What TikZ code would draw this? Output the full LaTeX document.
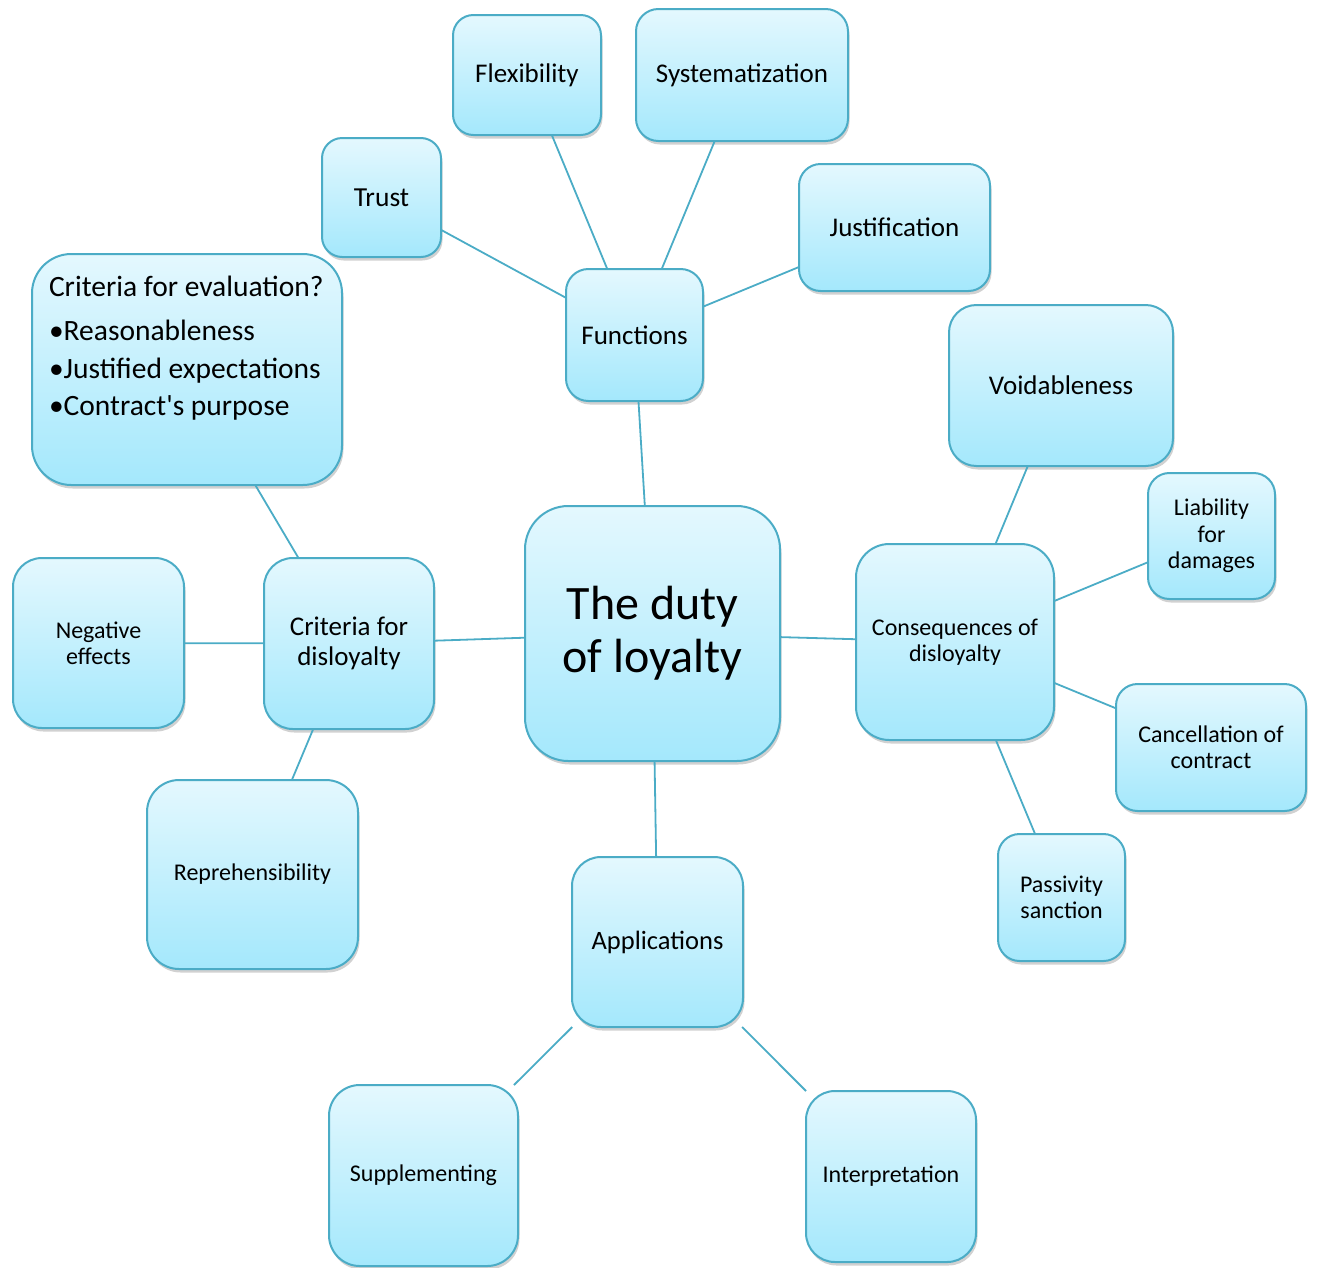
\documentclass[tikz,border=0pt]{standalone}
\usepackage{fontspec}
\setmainfont{Carlito}[Ligatures=TeXOff]
\usetikzlibrary{shadows}
\definecolor{bordc}{HTML}{4BACC6}
\definecolor{topc}{HTML}{E4F8FE}
\definecolor{botc}{HTML}{A4E8FC}
\tikzset{
  box/.style={draw=bordc, line width=2pt, top color=topc, bottom color=botc,
    rectangle, outer sep=0pt, inner sep=2pt, align=center, text=black,
    drop shadow={shadow xshift=1.5pt, shadow yshift=-3.5pt, opacity=0.3, fill=black!60}},
  conn/.style={draw=bordc, line width=1.8pt},
  txt/.style={inner sep=0pt, outer sep=0pt, align=left, text=black}
}
\newcommand\bx[7]{%
  \pgfmathsetmacro\myBW{#4-#2}%
  \pgfmathsetmacro\myBH{#5-#3}%
  \pgfmathsetmacro\myBR{0.17*min(\myBW,\myBH)}%
  \pgfmathsetmacro\myBL{#6*1.1}%
  \node[box, minimum width=\myBW pt, minimum height=\myBH pt, rounded corners=\myBR pt,
        font={\fontsize{#6}{\myBL}\selectfont}] (#1) at ({(#2+#4)/2},{(#3+#5)/2}) {#7};}
\begin{document}
\begin{tikzpicture}[x=1pt,y=-1pt]
\useasboundingbox (0,0) rectangle (1317,1267);
\bx{ctr}{525}{506}{780}{761}{48}{The duty\\of loyalty}
\bx{fun}{566}{269}{703}{401}{27}{Functions}
\bx{trust}{322}{138}{441}{257}{27.5}{Trust}
\bx{flex}{453}{15}{601}{135}{27}{Flexibility}
\bx{syst}{636}{9}{848}{141}{27}{Systematization}
\bx{just}{799}{164}{990}{291}{27}{Justification}
\bx{void}{949}{305}{1173}{466}{27}{Voidableness}
\bx{liab}{1148}{473}{1275}{599}{24}{Liability\\for\\damages}
\bx{cons}{856}{544}{1054}{740}{24}{Consequences of\\disloyalty}
\bx{canc}{1116}{684}{1306}{811}{24}{Cancellation of\\contract}
\bx{pass}{998}{834}{1125}{961}{24}{Passivity\\sanction}
\bx{appl}{572}{857}{743}{1027}{26.5}{Applications}
\bx{supp}{329}{1085}{518}{1266}{24}{Supplementing}
\bx{interp}{806}{1091}{976}{1262}{24}{Interpretation}
\bx{repr}{147}{780}{358}{969}{24}{Reprehensibility}
\bx{cdis}{264}{558}{434}{729}{27}{Criteria for\\disloyalty}
\bx{neg}{13}{558}{184}{728}{24}{Negative\\effects}
\bx{ceval}{32}{254}{342}{485}{25}{}
\node[txt, anchor=north west, font={\fontsize{29.5}{37.5}\selectfont}] (cevaltxt) at (49,276)
  {Criteria for evaluation?\\[7pt]
   •Reasonableness\\
   •Justified expectations\\
   •Contract's purpose};
\foreach \a/\b in {ctr/fun, fun/trust, fun/flex, fun/syst, fun/just,
  ctr/cdis, cdis/ceval, cdis/neg, cdis/repr,
  ctr/cons, cons/void, cons/liab, cons/canc, cons/pass,
  ctr/appl, appl/supp, appl/interp}
  \draw[conn] (\a) -- (\b);
\end{tikzpicture}
\end{document}
